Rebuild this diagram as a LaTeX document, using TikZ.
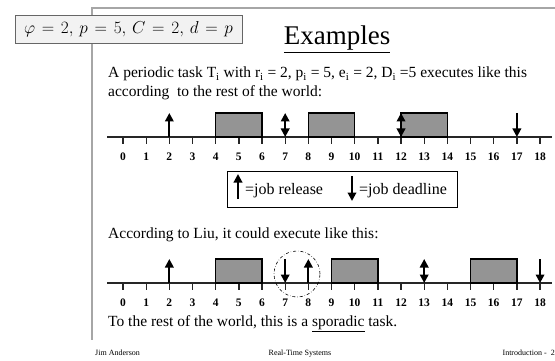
\documentclass[tikz,border=0pt]{standalone}
\usepackage{fontspec}
\setmainfont{Liberation Serif}
\usetikzlibrary{arrows.meta}
\begin{document}
\begin{tikzpicture}[x=1pt,y=-1pt,
  frameline/.style={draw=black!35,line width=1.5pt},
  formulabox/.style={draw=black!60,fill=black!5,line width=0.8pt,minimum width=227pt,minimum height=28pt,inner sep=0pt},
  bodytext/.style={font=\fontsize{15.5}{19}\selectfont,anchor=base west,inner sep=0pt},
  legendtext/.style={font=\fontsize{16}{16}\selectfont,anchor=base west,inner sep=0pt},
  axisline/.style={line width=1.3pt,black!85},
  tickline/.style={line width=1.3pt,black!85},
  jobbox/.style={draw=black,line width=1.3pt,fill=black!42},
  num/.style={font=\fontsize{11.5}{11.5}\selectfont\bfseries,inner sep=0pt},
  uparr/.style={line width=2pt,-{Triangle[length=8.5pt,width=8.5pt]}},
  dblarr/.style={line width=2pt,{Triangle[length=8.5pt,width=8.5pt]}-{Triangle[length=8.5pt,width=8.5pt]}},
  footer/.style={font=\fontsize{8}{8}\selectfont,inner sep=0pt,anchor=base}
]
\useasboundingbox[fill=white] (0,0) rectangle (555,361);
% slide frame
\coordinate (fr1) at (555,8);
\coordinate (fr2) at (92,8);
\coordinate (fr3) at (92,340);
\draw[frameline] (fr1) -- (fr2) -- (fr3);
% formula box
\node[formulabox] (formula) at (128.5,29) {\fontsize{16}{16}\selectfont\thickmuskip=7mu plus 2mu$\varphi = 2,\, p = 5,\, C = 2,\, d = p$};
% title
\node[font=\fontsize{27}{27}\selectfont,anchor=base,inner sep=0pt] (title) at (337,45) {\underline{Examples}};
% text
\node[bodytext] (l1) at (108,78) {A periodic task T\textsubscript{i} with r\textsubscript{i} = 2, p\textsubscript{i} = 5, e\textsubscript{i} = 2, D\textsubscript{i} =5 executes like this};
\node[bodytext] (l2) at (108,97) {according\ \ to the rest of the world:};
% timeline 1
\coordinate (ax1s) at (107,137);
\coordinate (ax1e) at (552,137);
\draw[axisline] (ax1s) -- (ax1e);
\foreach \t in {0,...,18} {
  \coordinate (a\t) at ({123+23.17*\t},137);
  \coordinate (at\t) at ({123+23.17*\t},113);
  \draw[tickline] (a\t) -- ++(0,7);
  \node[num] (n\t) at ({123+23.17*\t},157) {\t};
}
\draw[jobbox] (a4) rectangle (at6);
\draw[jobbox] (a8) rectangle (at10);
\draw[jobbox] (a12) rectangle (at14);
\draw[uparr] (a2) -- (at2);
\draw[dblarr] (at7) -- (a7);
\draw[dblarr] (at12) -- (a12);
\draw[uparr] (at17) -- (a17);
% legend
\node[draw,line width=1pt,minimum width=230pt,minimum height=36pt,inner sep=0pt] (legend) at (342,189) {};
\coordinate (lu1) at (238,199);
\coordinate (lu2) at (238,174);
\draw[uparr] (lu1) -- (lu2);
\node[legendtext] (rel) at (245,194) {=job release};
\coordinate (ld1) at (352,176);
\coordinate (ld2) at (352,201);
\draw[uparr] (ld1) -- (ld2);
\node[legendtext] (dl) at (359,194) {=job deadline};
% second text
\node[bodytext] (l3) at (108,238) {According to Liu, it could execute like this:};
% timeline 2
\coordinate (ax2s) at (107,283);
\coordinate (ax2e) at (552,283);
\draw[axisline] (ax2s) -- (ax2e);
\foreach \t in {0,...,18} {
  \coordinate (b\t) at ({123+23.17*\t},283);
  \coordinate (bt\t) at ({123+23.17*\t},259);
  \draw[tickline] (b\t) -- ++(0,7);
  \node[num] (m\t) at ({123+23.17*\t},303) {\t};
}
\draw[jobbox] (b4) rectangle (bt6);
\draw[jobbox] (b9) rectangle (bt11);
\draw[jobbox] (b15) rectangle (bt17);
\draw[uparr] (b2) -- (bt2);
\draw[uparr] (bt7) -- (b7);
\draw[uparr] (b8) -- (bt8);
\draw[dblarr] (bt13) -- (b13);
\draw[uparr] (bt18) -- (b18);
\node[draw,circle,dash dot,line width=0.6pt,minimum size=46pt,inner sep=0pt] (circ) at (297,274) {};
% last text
\node[bodytext] (l4) at (108,326) {To the rest of the world, this is a \underline{sporadic} task.};
% footer
\node[footer,anchor=base west] (f1) at (95,355) {Jim Anderson};
\node[footer] (f2) at (300,355) {Real-Time Systems};
\node[footer,anchor=base east] (f3) at (555,355) {Introduction -\ \ 2};
\end{tikzpicture}
\end{document}
